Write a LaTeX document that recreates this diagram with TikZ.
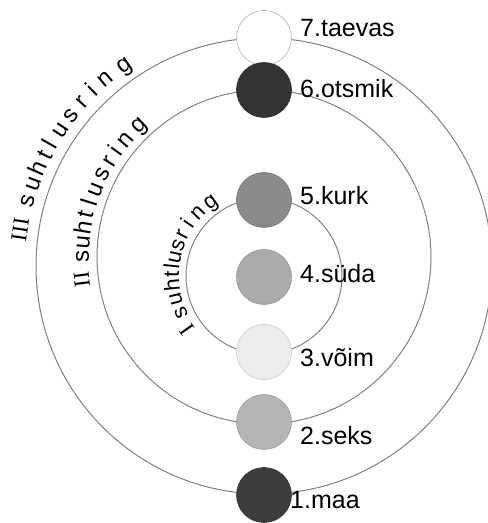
\documentclass[tikz,border=0pt]{standalone}
\usepackage{fontspec}
\setmainfont{Liberation Sans}
\newfontfamily\romfont{Liberation Serif}
\definecolor{ringgray}{gray}{0.5}
\definecolor{c7}{gray}{1.0}
\definecolor{c6}{gray}{0.20}
\definecolor{c5}{gray}{0.54}
\definecolor{c4}{gray}{0.67}
\definecolor{c3}{gray}{0.93}
\definecolor{c2}{gray}{0.71}
\definecolor{c1}{gray}{0.24}
\begin{document}
\begin{tikzpicture}[x=1pt,y=1pt,
  ring/.style={draw=ringgray, line width=1pt},
  ball/.style={circle, minimum size=55pt, inner sep=0pt, fill=#1, draw=#1!85!black, line width=0.6pt},
  lbl/.style={anchor=base west, inner sep=0pt, font=\fontsize{25}{30}\selectfont},
  ltr/.style={anchor=base, inner sep=0pt, font=\fontsize{24}{28}\selectfont},
  ltrs/.style={anchor=base, inner sep=0pt, font=\fontsize{22}{26}\selectfont},
  rom/.style={anchor=base, inner sep=0pt, font=\romfont\fontsize{23}{27}\selectfont}]
\useasboundingbox (0,0) rectangle (488,523);
% ring centres
\coordinate (o1) at (264,247);
\coordinate (o2) at (264,266);
\coordinate (o3) at (264,257);
% rings
\draw[ring] (o3) circle[radius=228];
\draw[ring] (o2) circle[radius=167];
\draw[ring] (o1) circle[radius=78];
% balls
\node[ball=c7, draw=gray!60] (b7) at (264,485) {};
\node[ball=c6] (b6) at (264,433) {};
\node[ball=c5] (b5) at (264,323) {};
\node[ball=c4] (b4) at (264,246) {};
\node[ball=c3] (b3) at (264,171) {};
\node[ball=c2] (b2) at (264,101) {};
\node[ball=c1] (b1) at (264,28) {};
% labels
\node[lbl] (l7) at (300,486) {7.taevas};
\node[lbl] (l6) at (300,425) {6.otsmik};
\node[lbl] (l5) at (300,318) {5.kurk};
\node[lbl] (l4) at (300,240) {4.süda};
\node[lbl] (l3) at (300,156) {3.võim};
\node[lbl] (l2) at (300,78) {2.seks};
\node[lbl] (l1) at (290,15) {1.maa};
% ring III text
\begin{scope}[shift={(o3)}]
  \node[rom, rotate=81.5] (r3n) at (171.5:239) {III};
  \foreach \ch/\a [count=\i] in {s/164.6,u/160.3,h/156.6,t/153.2,l/150.3,u/146.4,s/142,r/138,i/134.4,n/130.3,g/125}
    \node[ltr, rotate=\a-90] (r3l\i) at (\a:238) {\ch};
\end{scope}
% ring II text
\begin{scope}[shift={(o2)}]
  \node[rom, rotate=97] (r2n) at (187:176) {II};
  \foreach \ch/\a [count=\i] in {s/179.8,u/175.2,h/170.6,t/166.7,l/162.8,u/158.2,s/152.8,r/148.2,i/144.3,n/139.8,g/133.5}
    \node[ltr, rotate=\a-90] (r2l\i) at (\a:175) {\ch};
\end{scope}
% ring I text
\begin{scope}[shift={(o1)}]
  \node[rom, rotate=125] (r1n) at (215:86) {I};
  \foreach \ch/\a [count=\i] in {s/204,u/194.5,h/185.6,t/178.8,l/174.2,u/167.8,s/160.5,r/153,i/145.5,n/136.5,g/126}
    \node[ltrs, rotate=\a-90] (r1l\i) at (\a:85) {\ch};
\end{scope}
\end{tikzpicture}
\end{document}
